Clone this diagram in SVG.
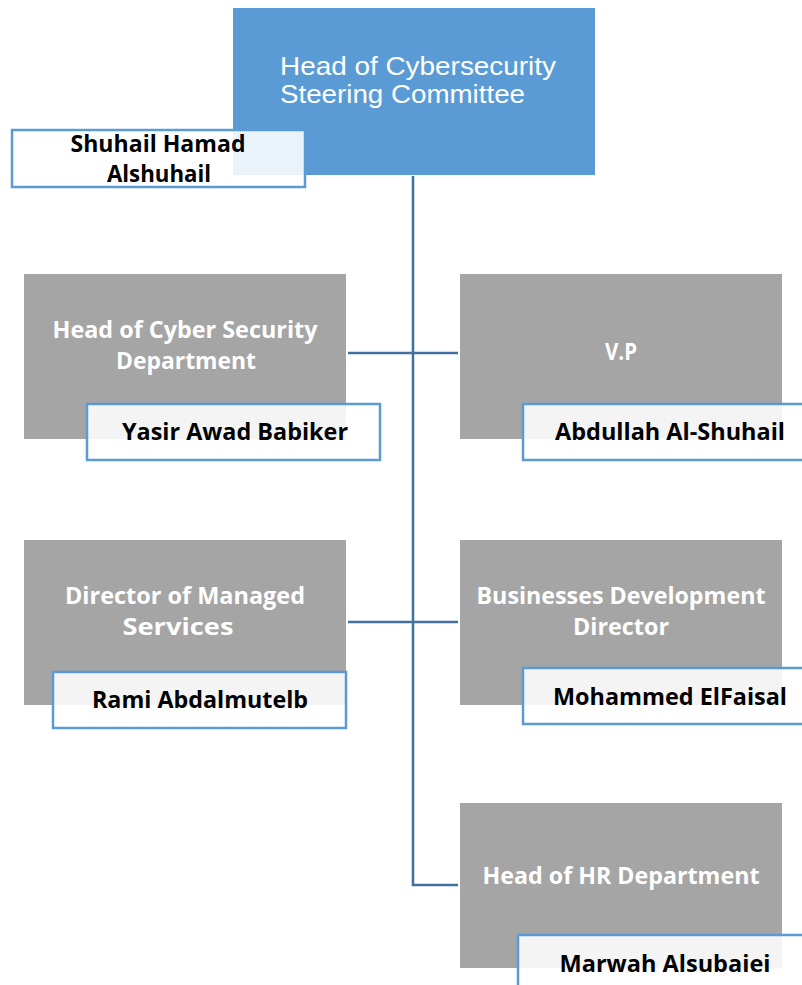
<svg xmlns="http://www.w3.org/2000/svg" width="802" height="985" viewBox="0 0 802 985">
<style>
.gray{fill:#A5A5A5}
.name{fill:#FFFFFF;fill-opacity:0.88;stroke:#5B9BD5;stroke-width:2.5}
.t{font-family:"Open Sans",Lato,"Liberation Sans",sans-serif;font-weight:bold;font-size:23px;text-anchor:middle;fill:#FFFFFF}
.n{font-family:"Open Sans",Lato,"Liberation Sans",sans-serif;font-weight:bold;font-size:23px;text-anchor:middle;fill:#000000}
.c{fill:none;stroke:#41719C;stroke-width:2.5}
</style>
<rect width="802" height="985" fill="#FFFFFF"/>
<g id="connectors">
<path class="c" d="M413 176 V885 H458"/>
<path class="c" d="M348 353 H458"/>
<path class="c" d="M348 622 H458"/>
</g>
<g id="head">
<rect x="233" y="8" width="362" height="167" fill="#5B9BD5"/>
<text x="280" y="75" font-family="'Liberation Sans',Arial,sans-serif" font-size="25" fill="#FFFFFF" textLength="276" lengthAdjust="spacingAndGlyphs">Head of Cybersecurity</text>
<text x="280" y="103" font-family="'Liberation Sans',Arial,sans-serif" font-size="25" fill="#FFFFFF" textLength="245" lengthAdjust="spacingAndGlyphs">Steering Committee</text>
<rect class="name" x="12" y="130" width="293" height="57"/>
<text class="n" x="158" y="152" textLength="175" lengthAdjust="spacingAndGlyphs">Shuhail Hamad</text>
<text class="n" x="159" y="182" textLength="104" lengthAdjust="spacingAndGlyphs">Alshuhail</text>
</g>
<g id="cyber">
<rect class="gray" x="24" y="274" width="322" height="165"/>
<text class="t" x="185" y="338" textLength="265" lengthAdjust="spacingAndGlyphs">Head of Cyber Security</text>
<text class="t" x="186" y="369" textLength="140" lengthAdjust="spacingAndGlyphs">Department</text>
<rect class="name" x="87" y="404" width="293" height="56"/>
<text class="n" x="235" y="440" textLength="226" lengthAdjust="spacingAndGlyphs">Yasir Awad Babiker</text>
</g>
<g id="vp">
<rect class="gray" x="460" y="274" width="322" height="165"/>
<text class="t" x="621" y="360" textLength="32" lengthAdjust="spacingAndGlyphs">V.P</text>
<rect class="name" x="523" y="404" width="293" height="56"/>
<text class="n" x="670" y="440" textLength="230" lengthAdjust="spacingAndGlyphs">Abdullah Al-Shuhail</text>
</g>
<g id="managed">
<rect class="gray" x="24" y="540" width="322" height="165"/>
<text class="t" x="185" y="604" textLength="240" lengthAdjust="spacingAndGlyphs">Director of Managed</text>
<text class="t" x="178" y="635" textLength="111" lengthAdjust="spacingAndGlyphs">Services</text>
<rect class="name" x="53" y="672" width="293" height="56"/>
<text class="n" x="200" y="708" textLength="216" lengthAdjust="spacingAndGlyphs">Rami Abdalmutelb</text>
</g>
<g id="bizdev">
<rect class="gray" x="460" y="540" width="322" height="165"/>
<text class="t" x="621" y="604" textLength="289" lengthAdjust="spacingAndGlyphs">Businesses Development</text>
<text class="t" x="621" y="635" textLength="96" lengthAdjust="spacingAndGlyphs">Director</text>
<rect class="name" x="523" y="668" width="293" height="56"/>
<text class="n" x="670" y="705" textLength="234" lengthAdjust="spacingAndGlyphs">Mohammed ElFaisal</text>
</g>
<g id="hr">
<rect class="gray" x="460" y="803" width="322" height="165"/>
<text class="t" x="621" y="884" textLength="277" lengthAdjust="spacingAndGlyphs">Head of HR Department</text>
<rect class="name" x="518" y="935" width="293" height="56"/>
<text class="n" x="665" y="972" textLength="211" lengthAdjust="spacingAndGlyphs">Marwah Alsubaiei</text>
</g>
</svg>
